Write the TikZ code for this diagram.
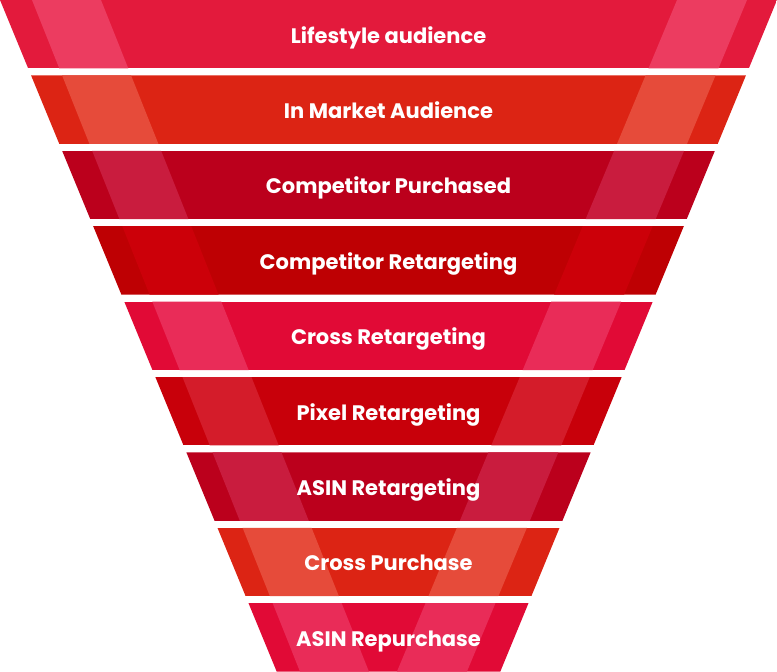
\documentclass[tikz,border=0pt]{standalone}
\usepackage{fontspec}
\newfontfamily\funnelfont{Poppins}
\definecolor{roseA}{HTML}{E31A3C}\definecolor{roseAlt}{HTML}{EC3C60}
\definecolor{flameA}{HTML}{DC2414}\definecolor{flameAlt}{HTML}{E64B3A}
\definecolor{wineA}{HTML}{BB001C}\definecolor{wineAlt}{HTML}{C91C3E}
\definecolor{bloodA}{HTML}{BE0003}\definecolor{bloodAlt}{HTML}{CC0009}
\definecolor{cherryA}{HTML}{E10A36}\definecolor{cherryAlt}{HTML}{E92C58}
\definecolor{scarletA}{HTML}{C8000A}\definecolor{scarletAlt}{HTML}{D41C2A}

\begin{document}
\begin{tikzpicture}[
  x=1pt, y=-1pt,
  label/.style={font=\funnelfont\bfseries\fontsize{21}{24}\selectfont, text=white, inner sep=0pt, anchor=base},
]
\useasboundingbox (0,0) rectangle (777,672);

% ---------------- funnel bands ----------------
\foreach \lbl/\base/\light [count=\i from 0] in {
  Lifestyle audience/roseA/roseAlt,
  In Market Audience/flameA/flameAlt,
  Competitor Purchased/wineA/wineAlt,
  Competitor Retargeting/bloodA/bloodAlt,
  Cross Retargeting/cherryA/cherryAlt,
  Pixel Retargeting/scarletA/scarletAlt,
  ASIN Retargeting/wineA/wineAlt,
  Cross Purchase/flameA/flameAlt,
  ASIN Repurchase/cherryA/cherryAlt} {
  \pgfmathsetmacro\yt{75.4*\i}
  \pgfmathsetmacro\yb{\yt+68.4}
  \begin{scope}
    \clip ({0.412*\yt},\yt) -- ({777-0.412*\yt},\yt) -- ({777-0.412*\yb},\yb) -- ({0.412*\yb},\yb) -- cycle;
    \fill[\base] (0,\yt) rectangle (777,\yb);
    % light diagonal stripes
    \fill[\light] ({32+0.399*\yt},\yt) -- ({101+0.399*\yt},\yt) -- ({101+0.399*\yb},\yb) -- ({32+0.399*\yb},\yb) -- cycle;
    \fill[\light] ({677-0.417*\yt},\yt) -- ({747-0.417*\yt},\yt) -- ({747-0.417*\yb},\yb) -- ({677-0.417*\yb},\yb) -- cycle;
  \end{scope}
  \node[label] (band\i) at (388.5,{\yt+43}) {\lbl};
}

\end{tikzpicture}
\end{document}
